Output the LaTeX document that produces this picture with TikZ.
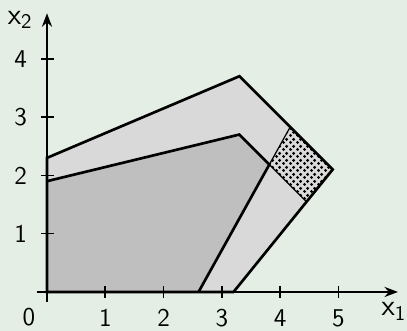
\documentclass[tikz,border=0pt]{standalone}
\usetikzlibrary{arrows.meta,patterns}
\definecolor{bgcol}{RGB}{228,238,228}
\pgfdeclarepatternformonly{bigdots}{\pgfpointorigin}{\pgfqpoint{3.2pt}{3.2pt}}{\pgfqpoint{3.2pt}{3.2pt}}{%
  \pgfpathcircle{\pgfqpoint{0.8pt}{0.8pt}}{0.8pt}%
  \pgfpathcircle{\pgfqpoint{2.4pt}{2.4pt}}{0.8pt}%
  \pgfusepath{fill}%
}

\begin{document}
\begin{tikzpicture}[>=Stealth,font=\sffamily\fontsize{12.5}{14}\selectfont,
  axis/.style={->,line width=0.8pt},
  region/.style={line width=1.3pt,line join=miter},
  tick/.style={line width=0.8pt},
  axlabel/.style={font=\sffamily\fontsize{14.5}{16}\selectfont}]
  \fill[bgcol] (-0.806,-0.669) rectangle (6.175,5.008);
  \useasboundingbox (-0.806,-0.669) rectangle (6.175,5.008);
  % corners of the two regions
  \coordinate (o0) at (0,0);
  \coordinate (oa) at (0,2.3);
  \coordinate (ob) at (3.3,3.7);
  \coordinate (oc) at (4.9,2.1);
  \coordinate (od) at (3.2,0);
  \coordinate (ia) at (0,1.9);
  \coordinate (ib) at (3.3,2.7);
  \coordinate (ic) at (3.814,2.186);
  \coordinate (id) at (2.6,0);
  \coordinate (pa) at (4.171,2.829);
  \coordinate (pb) at (4.453,1.547);
  % fills
  \fill[black!15] (o0) -- (oa) -- (ob) -- (oc) -- (od) -- cycle;
  \fill[pattern=bigdots] (ic) -- (pa) -- (oc) -- (pb) -- cycle;
  \fill[black!25] (o0) -- (ia) -- (ib) -- (ic) -- (id) -- cycle;
  % outlines
  \draw[line width=0.6pt] (pa) -- (ic) -- (pb);
  \draw[region] (o0) -- (oa) -- (ob) -- (oc) -- (od) -- cycle;
  \draw[region] (ia) -- (ib) -- (ic) -- (id);
  % axes
  \draw[axis] (-0.17,0) -- (6.02,0);
  \draw[axis] (0,-0.17) -- (0,4.78);
  \foreach \x in {1,...,5} {
    \draw[tick] (\x,0.1) -- (\x,-0.1);
    \node (xl\x) at (\x,-0.45) {\x};
  }
  \foreach \y in {1,...,4} {
    \draw[tick] (-0.1,\y) -- (0.12,\y);
    \node (yl\y) at (-0.45,\y) {\y};
  }
  \node (zero) at (-0.31,-0.43) {0};
  \node[axlabel] (xa) at (5.95,-0.33) {x\textsubscript{1}};
  \node[axlabel] (ya) at (-0.46,4.67) {x\textsubscript{2}};
\end{tikzpicture}
\end{document}
